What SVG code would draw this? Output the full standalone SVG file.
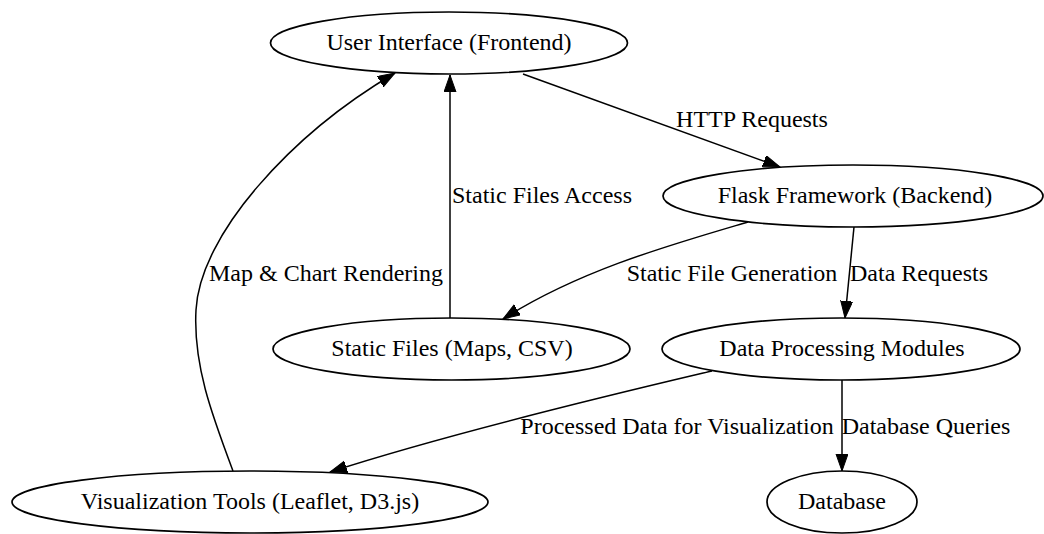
<svg xmlns="http://www.w3.org/2000/svg" width="1044" height="534" viewBox="0 0 1044 534">
<style>
  .node ellipse { fill: #ffffff; stroke: #000000; stroke-width: 1.7; }
  .node text { font-family: "Liberation Serif", "Times New Roman", serif; font-size: 24px; fill: #000000; text-anchor: middle; }
  .edge path { fill: none; stroke: #000000; stroke-width: 1.5; marker-end: url(#arrow); }
  .label { font-family: "Liberation Serif", "Times New Roman", serif; font-size: 24px; fill: #000000; text-anchor: middle; }
</style>
<defs>
  <marker id="arrow" markerUnits="userSpaceOnUse" markerWidth="18" markerHeight="13" refX="17" refY="6" orient="auto">
    <path d="M0,0 L17,6 L0,12 z" fill="#000000" stroke="#000000" stroke-width="1"/>
  </marker>
</defs>
<rect width="1044" height="534" fill="#ffffff"/>
<g id="edges">
  <g class="edge" id="e_ui_flask"><path d="M523,74 C600,101 690,134 780,167"/></g>
  <g class="edge" id="e_static_ui"><path d="M450,318 L450,75"/></g>
  <g class="edge" id="e_viz_ui"><path d="M233,471 C212,415 193,365 196,310 C200,235 290,135 395,73"/></g>
  <g class="edge" id="e_flask_static"><path d="M748,222 C670,245 580,270 503,319"/></g>
  <g class="edge" id="e_flask_dp"><path d="M854,227 L845,318"/></g>
  <g class="edge" id="e_dp_viz"><path d="M712,371 C640,388 460,430 330,472"/></g>
  <g class="edge" id="e_dp_db"><path d="M842,380 L842,471"/></g>
  <text class="label" x="752" y="127">HTTP Requests</text>
  <text class="label" x="542" y="203">Static Files Access</text>
  <text class="label" x="326" y="281">Map &amp; Chart Rendering</text>
  <text class="label" x="732" y="281">Static File Generation</text>
  <text class="label" x="919" y="281">Data Requests</text>
  <text class="label" x="677" y="434">Processed Data for Visualization</text>
  <text class="label" x="926" y="434">Database Queries</text>
</g>
<g class="node" id="ui">
  <ellipse cx="449" cy="43" rx="178.5" ry="31"/>
  <text x="449" y="50">User Interface (Frontend)</text>
</g>
<g class="node" id="flask">
  <ellipse cx="853" cy="196" rx="190" ry="31"/>
  <text x="855" y="203">Flask Framework (Backend)</text>
</g>
<g class="node" id="static">
  <ellipse cx="451.5" cy="349" rx="178.5" ry="31"/>
  <text x="452" y="356">Static Files (Maps, CSV)</text>
</g>
<g class="node" id="dp">
  <ellipse cx="841" cy="349" rx="179" ry="31"/>
  <text x="842" y="356">Data Processing Modules</text>
</g>
<g class="node" id="viz">
  <ellipse cx="250" cy="502" rx="238" ry="31"/>
  <text x="250" y="509">Visualization Tools (Leaflet, D3.js)</text>
</g>
<g class="node" id="db">
  <ellipse cx="842" cy="502" rx="75" ry="31"/>
  <text x="842" y="509">Database</text>
</g>
</svg>
